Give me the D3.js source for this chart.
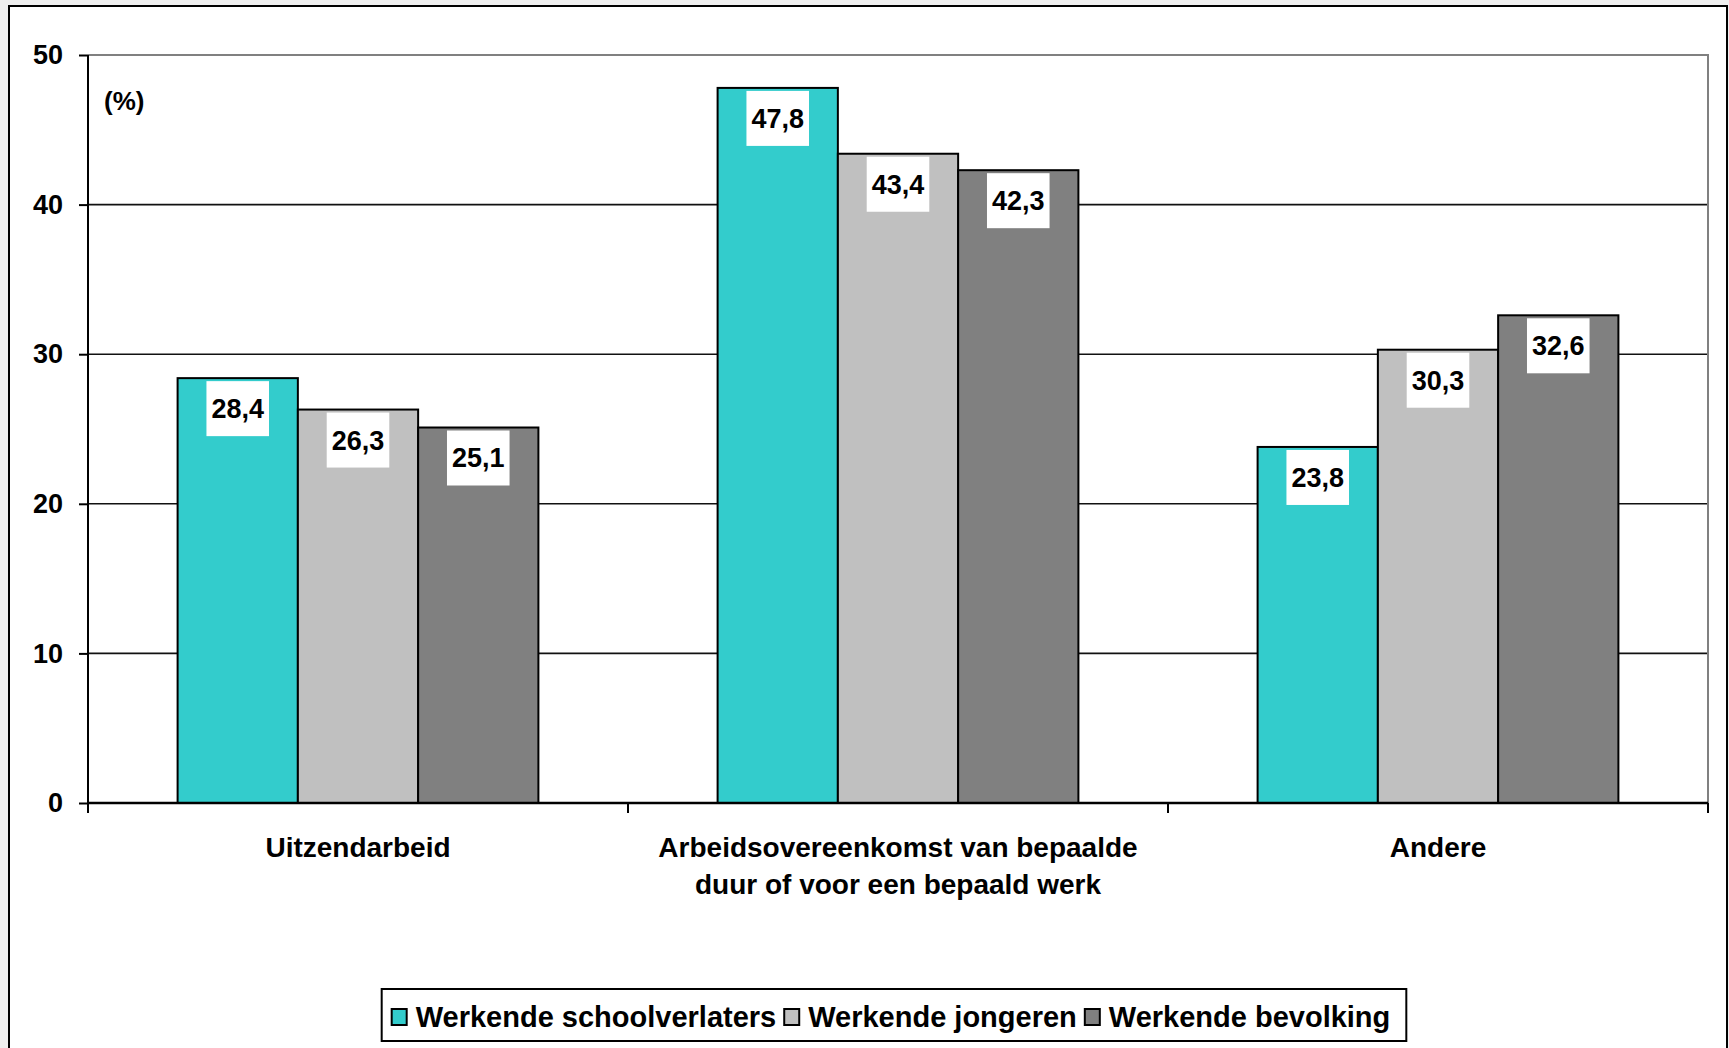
<!DOCTYPE html>
<html>
<head>
<meta charset="utf-8">
<script src="https://cdn.jsdelivr.net/npm/d3@7"></script>
<style>
  html, body { margin: 0; padding: 0; background: #efefef; }
  svg { display: block; }
  text { font-family: "Liberation Sans", Arial, sans-serif; font-weight: bold; fill: #000; }
</style>
</head>
<body>
<svg id="chart" width="1729" height="1048"></svg>
<script>
const categories = ["Uitzendarbeid", "Arbeidsovereenkomst van bepaalde\nduur of voor een bepaald werk", "Andere"];
const seriesNames = ["Werkende schoolverlaters", "Werkende jongeren", "Werkende bevolking"];
const schoolverlaters = [28.4, 47.8, 23.8];
const jongeren = [26.3, 43.4, 30.3];
const bevolking = [25.1, 42.3, 32.6];
const seriesColors = ["#33CCCC", "#C0C0C0", "#808080"];
const yTicks = [0, 10, 20, 30, 40, 50];
const unitLabel = "(%)";

const seriesValues = [schoolverlaters, jongeren, bevolking];
const fmt = v => String(v.toFixed(1)).replace(".", ",");

const svg = d3.select("#chart");
const plot = { left: 88, top: 55, right: 1708, bottom: 803 };

// outer chart area
svg.append("rect").attr("x", 9).attr("y", 6).attr("width", 1718).attr("height", 1070)
  .attr("fill", "#fff").attr("stroke", "#000").attr("stroke-width", 2);

const x0 = d3.scaleBand().domain(categories).range([plot.left, plot.right]).paddingInner(0).paddingOuter(0);
const x1 = d3.scaleBand().domain(seriesNames).range([0, x0.bandwidth()]).paddingInner(0).paddingOuter(0.745);
const y = d3.scaleLinear().domain([0, 50]).range([plot.bottom, plot.top]);

// gridlines
svg.append("g").selectAll("line").data(yTicks.filter(t => t > 0 && t < 50)).join("line")
  .attr("x1", plot.left).attr("x2", plot.right)
  .attr("y1", d => y(d)).attr("y2", d => y(d))
  .attr("stroke", "#111").attr("stroke-width", 1.6);

// plot border top and right (gray)
svg.append("path")
  .attr("d", `M${plot.left},${y(50)}H${plot.right}V${plot.bottom}`)
  .attr("fill", "none").attr("stroke", "#808080").attr("stroke-width", 2);

// bars
const groups = svg.append("g").selectAll("g").data(categories).join("g")
  .attr("transform", d => `translate(${x0(d)},0)`);

groups.each(function(cat, ci) {
  const g = d3.select(this);
  seriesNames.forEach((s, si) => {
    const v = seriesValues[si][ci];
    g.append("rect")
      .attr("x", x1(s)).attr("width", x1.bandwidth())
      .attr("y", y(v)).attr("height", y(0) - y(v))
      .attr("fill", seriesColors[si]).attr("stroke", "#000").attr("stroke-width", 2);
  });
});

// value labels
groups.each(function(cat, ci) {
  const g = d3.select(this);
  seriesNames.forEach((s, si) => {
    const v = seriesValues[si][ci];
    const cx = x1(s) + x1.bandwidth() / 2;
    const top = y(v) + 3;
    const lg = g.append("g");
    const box = lg.append("rect").attr("y", top).attr("height", 55).attr("fill", "#fff");
    const t = lg.append("text").attr("x", cx).attr("y", top + 27.5).attr("dy", "0.35em")
      .attr("text-anchor", "middle").attr("font-size", 27).text(fmt(v));
    const w = t.node().getComputedTextLength() + 10;
    box.attr("x", cx - w / 2).attr("width", w);
  });
});

// y axis
const yAxis = d3.axisLeft(y).tickValues(yTicks).tickSize(9).tickPadding(16).tickFormat(d3.format("d"));
const ya = svg.append("g").attr("transform", `translate(${plot.left},0)`).call(yAxis);
ya.select(".domain").attr("d", `M0,${plot.top}V${plot.bottom + 10}`).attr("stroke", "#000").attr("stroke-width", 2);
ya.selectAll(".tick line").attr("stroke", "#000").attr("stroke-width", 2);
ya.selectAll(".tick text").attr("font-size", 27).attr("font-family", "Liberation Sans, Arial, sans-serif").attr("font-weight", "bold");

// x axis
const xa = svg.append("g").attr("transform", `translate(0,${plot.bottom})`);
xa.append("line").attr("x1", plot.left).attr("x2", plot.right).attr("y1", 0).attr("y2", 0)
  .attr("stroke", "#000").attr("stroke-width", 2.5);
const boundaries = categories.map(c => x0(c)).concat([x0(categories[categories.length - 1]) + x0.bandwidth()]);
xa.selectAll("line.tk").data(boundaries).join("line").attr("class", "tk")
  .attr("x1", d => d).attr("x2", d => d).attr("y1", 0).attr("y2", 10)
  .attr("stroke", "#000").attr("stroke-width", 2);
xa.selectAll("text.cat").data(categories).join("text").attr("class", "cat")
  .attr("text-anchor", "middle").attr("font-size", 28)
  .attr("x", d => x0(d) + x0.bandwidth() / 2)
  .each(function(d) {
    const lines = d.split("\n");
    d3.select(this).selectAll("tspan").data(lines).join("tspan")
      .attr("x", x0(d) + x0.bandwidth() / 2)
      .attr("y", (l, i) => 54 + i * 37)
      .text(l => l);
  });

// unit label
svg.append("text").attr("x", 104).attr("y", 110).attr("font-size", 26).text(unitLabel);

// legend
const legendBox = svg.append("rect").attr("fill", "#fff").attr("stroke", "#000").attr("stroke-width", 2);
const legend = svg.append("g");
const lgY = 1017;
let cx = 0;
seriesNames.forEach((s, i) => {
  const it = legend.append("g");
  it.append("rect").attr("x", cx).attr("y", lgY - 8).attr("width", 15).attr("height", 16)
    .attr("fill", seriesColors[i]).attr("stroke", "#000").attr("stroke-width", 2);
  const t = it.append("text").attr("x", cx + 24).attr("y", lgY).attr("dy", "0.35em")
    .attr("font-size", 29).text(s);
  cx += 24 + t.node().getComputedTextLength() + 8;
});
const totalW = cx - 8;
const lgLeft = 894 - (totalW + 26) / 2;
legend.attr("transform", `translate(${lgLeft + 10},0)`);
legendBox.attr("x", lgLeft).attr("y", 989).attr("width", totalW + 26).attr("height", 52);
</script>
</body>
</html>
